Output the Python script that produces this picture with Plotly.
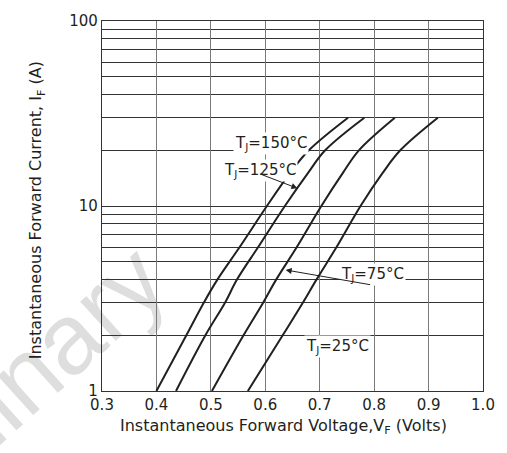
import numpy as np
import plotly.graph_objects as go

# Data
current = [1, 2, 3, 4, 6, 10, 15, 20, 30]
vf_150 = [0.400, 0.455, 0.487, 0.512, 0.553, 0.603, 0.645, 0.680, 0.752]
vf_125 = [0.436, 0.490, 0.526, 0.548, 0.587, 0.636, 0.678, 0.710, 0.782]
vf_75 = [0.502, 0.560, 0.596, 0.620, 0.658, 0.703, 0.742, 0.772, 0.838]
vf_25 = [0.568, 0.632, 0.669, 0.694, 0.731, 0.775, 0.815, 0.848, 0.917]
series_names = ["T<sub>J</sub>=150°C", "T<sub>J</sub>=125°C", "T<sub>J</sub>=75°C", "T<sub>J</sub>=25°C"]

x_ticks = [0.3, 0.4, 0.5, 0.6, 0.7, 0.8, 0.9, 1.0]
y_major = [1, 10, 100]
y_minor = [2, 3, 4, 5, 6, 7, 8, 9, 20, 30, 40, 50, 60, 70, 80, 90]

W, H = 507, 453
L, R, T, B = 102, 15, 15, 62
pw, ph = W - L - R, H - T - B

def px_to_paper(px, py):
    return (px - L) / pw, (H - B - py) / ph

ink = "#231f20"
font_family = "DejaVu Sans, Liberation Sans, Arial, sans-serif"

fig = go.Figure()
for vals, name in zip([vf_150, vf_125, vf_75, vf_25], series_names):
    fig.add_trace(go.Scatter(x=vals, y=current, mode="lines", name=name,
                             line=dict(color=ink, width=2, shape="spline", smoothing=1.0),
                             showlegend=False, hoverinfo="skip"))

annotations = []
label_pos = [(275, 128), (225, 167), (413, 284), (343, 357)]
for name, (px, py) in zip(series_names, label_pos):
    xp, yp = px_to_paper(px, py)
    annotations.append(dict(x=xp, y=yp, xref="paper", yref="paper", text=name,
                            showarrow=False, bgcolor="white", borderpad=1,
                            font=dict(size=15, color=ink, family=font_family)))

arrows = [((302, 185), (263, 170)), ((290, 268), (376, 283))]
for (hx, hy), (tx, ty) in arrows:
    hxp, hyp = px_to_paper(hx, hy)
    annotations.append(dict(x=hxp, y=hyp, xref="paper", yref="paper",
                            ax=tx - hx, ay=ty - hy, axref="pixel", ayref="pixel",
                            text="", showarrow=True, arrowhead=2, arrowsize=1.2,
                            arrowwidth=1, arrowcolor=ink))

xp, yp = px_to_paper(288, 440)
annotations.append(dict(x=xp, y=yp, xref="paper", yref="paper",
                        text="Instantaneous Forward Voltage,V<sub>F</sub> (Volts)",
                        showarrow=False, font=dict(size=16, color=ink, family=font_family)))
xp, yp = px_to_paper(23, 207)
annotations.append(dict(x=xp, y=yp, xref="paper", yref="paper", textangle=-90,
                        text="Instantaneous Forward Current, I<sub>F</sub> (A)",
                        showarrow=False, font=dict(size=16, color=ink, family=font_family)))

fig.update_layout(
    width=W, height=H,
    margin=dict(l=L, r=R, t=T, b=B),
    paper_bgcolor="white", plot_bgcolor="white",
    annotations=annotations,
    font=dict(family=font_family, color=ink, size=14),
    shapes=[dict(type="rect", xref="paper", yref="paper",
                 x0=-0.63, x1=-0.13, y0=-0.29, y1=0.11, layer="below",
                 line=dict(width=0), fillcolor="rgba(0,0,0,0)",
                 label=dict(text="Preliminary", textangle=-42,
                            textposition="middle center",
                            font=dict(size=100, color="#dedede",
                                      family="Liberation Sans, Arial, sans-serif")))],
)
fig.update_xaxes(range=[0.3, 1.0], tickvals=x_ticks, ticktext=[f"{v:.1f}" for v in x_ticks],
                 showgrid=True, gridcolor="#7a7a7a", gridwidth=1.2,
                 showline=True, linecolor="#333", linewidth=1.3, mirror=True,
                 ticks="", zeroline=False, tickfont=dict(size=15))
fig.update_yaxes(type="log", range=[0, 2], tickvals=y_major,
                 ticktext=[str(v) for v in y_major],
                 minor=dict(tickvals=y_minor, showgrid=True, gridcolor="#333",
                            gridwidth=1.2, ticks=""),
                 showgrid=True, gridcolor="#333", gridwidth=1.2,
                 showline=True, linecolor="#333", linewidth=1.3, mirror=True,
                 ticks="", zeroline=False, tickfont=dict(size=15))

fig.write_html("out.html", config={"displayModeBar": False},
               post_script="document.body.style.margin='0';document.body.style.overflow='hidden';")
